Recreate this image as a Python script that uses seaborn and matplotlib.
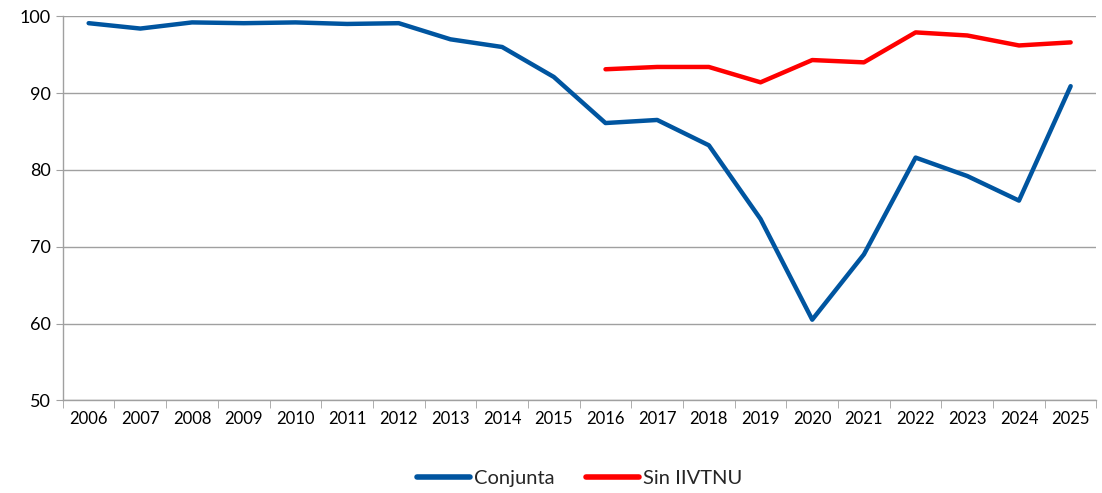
import numpy as np
import pandas as pd
import seaborn as sns
import matplotlib.pyplot as plt
from matplotlib.ticker import FixedLocator

years = [str(y) for y in range(2006, 2026)]
conjunta = [99.1, 98.4, 99.2, 99.1, 99.2, 99.0, 99.1, 97.0, 96.0, 92.1,
            86.1, 86.5, 83.2, 73.6, 60.5, 69.0, 81.6, 79.2, 76.0, 90.9]
sin_iivtnu = [np.nan] * 10 + [93.1, 93.4, 93.4, 91.4, 94.3, 94.0, 97.9, 97.5, 96.2, 96.6]

df = pd.DataFrame({"Año": years, "Conjunta": conjunta, "Sin IIVTNU": sin_iivtnu})
long = df.melt(id_vars="Año", var_name="Serie", value_name="Valor").dropna()

sns.set_style("white")
plt.rcParams['font.family'] = ['Lato', 'DejaVu Sans']

fig, ax = plt.subplots(figsize=(11.02, 4.93), dpi=100)
fig.subplots_adjust(left=0.057, right=0.995, top=0.967, bottom=0.188)

sns.lineplot(data=long, x="Año", y="Valor", hue="Serie", sort=False,
             palette={"Conjunta": "#0055A0", "Sin IIVTNU": "#FF0000"},
             linewidth=3.2, ax=ax)

ax.set_ylim(50, 100)
ax.set_xlim(-0.5, len(years) - 0.5)
ax.set_yticks([50, 60, 70, 80, 90, 100])
ax.yaxis.grid(True, color="#a0a0a0", linewidth=1)
ax.set_axisbelow(True)
ax.set_xlabel("")
ax.set_ylabel("")

for s in ["top", "right"]:
    ax.spines[s].set_visible(False)
for s in ["left", "bottom"]:
    ax.spines[s].set_color("#a0a0a0")
    ax.spines[s].set_linewidth(1)

ax.xaxis.set_minor_locator(FixedLocator(np.arange(-0.5, len(years), 1)))
ax.tick_params(axis="x", which="major", length=0, labelsize=12, pad=8, colors="black")
ax.tick_params(axis="x", which="minor", length=6, color="#a0a0a0", direction="out", bottom=True)
ax.tick_params(axis="y", which="major", length=5, color="#a0a0a0", labelsize=13, colors="black", left=True)

leg = ax.legend(loc="upper center", bbox_to_anchor=(0.5, -0.135), ncol=2, frameon=False,
                fontsize=14.5, handlelength=2.6, columnspacing=1.6, handletextpad=0.2)
for line in leg.get_lines():
    line.set_linewidth(4)

fig.savefig("out.png", dpi=100)
